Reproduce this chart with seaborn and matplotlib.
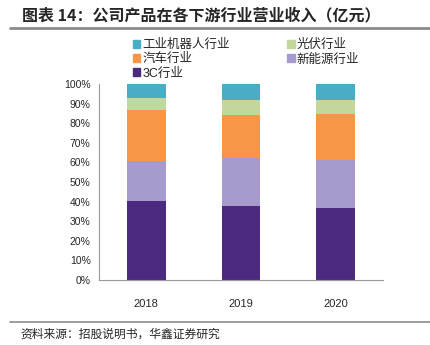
import matplotlib
matplotlib.use("Agg")
import matplotlib.pyplot as plt
from matplotlib.lines import Line2D
from matplotlib.patches import Patch
import seaborn as sns
import pandas as pd
import numpy as np

years = ["2018", "2019", "2020"]
series_names = ["3C行业", "新能源行业", "汽车行业", "光伏行业", "工业机器人行业"]
v_3c = [40.5, 37.6, 36.7]
v_ne = [20.2, 24.8, 24.7]
v_auto = [26.0, 21.8, 23.5]
v_pv = [6.2, 7.6, 6.8]
v_robot = [7.1, 8.2, 8.3]
colors = ["#4B2A80", "#A79ACD", "#F79646", "#C3D69B", "#4BACC6"]
yticks = [0, 10, 20, 30, 40, 50, 60, 70, 80, 90, 100]

sns.set_style("white")
plt.rcParams["font.family"] = ["Liberation Sans", "Noto Sans CJK SC", "DejaVu Sans"]

vals = np.array([v_3c, v_ne, v_auto, v_pv, v_robot])
cum = np.cumsum(vals, axis=0)
total = cum[-1]
cum_pct = cum / total * 100

fig = plt.figure(figsize=(4.31, 3.45), dpi=100)
ax = fig.add_axes([99/431, 1-280/345, 284/431, 196/345])

# draw cumulative bars from top down so each overlays
for i in range(len(series_names)-1, -1, -1):
    df = pd.DataFrame({"year": years, "v": cum_pct[i]})
    sns.barplot(data=df, x="year", y="v", color=colors[i], width=0.41,
                saturation=1, ax=ax, linewidth=0, zorder=2)

ax.set_xlim(-0.5, 2.5)
ax.set_ylim(0, 100)
ax.set_yticks(yticks)
ax.set_yticklabels([f"{t}%" for t in yticks], fontsize=7.5)
ax.set_xlabel("")
ax.set_ylabel("")
ax.tick_params(axis="x", which="major", length=0, pad=14, labelsize=8)
ax.set_xticks([0.5, 1.5, 2.5], minor=True)
ax.tick_params(axis="x", which="minor", length=3, color="#999999", direction="out")
ax.tick_params(axis="y", length=3, color="#999999", direction="out", pad=3)
for s in ["top", "right"]:
    ax.spines[s].set_visible(False)
for s in ["left", "bottom"]:
    ax.spines[s].set_color("#999999")
    ax.spines[s].set_linewidth(0.8)

# legend
handles = [Patch(color=c) for c in colors]
order = [4, 2, 0, 3, 1]
leg = fig.legend([handles[k] for k in order], [series_names[k] for k in order],
                 ncol=2, loc="upper left", bbox_to_anchor=(133/431, 1-39/345),
                 frameon=False, fontsize=9, handlelength=0.6, handleheight=0.6,
                 handletextpad=0.15, columnspacing=4.6, labelspacing=0.18,
                 borderpad=0, borderaxespad=0)

# title, lines, source
fig.text(22/431, 1-15/345, "图表 14：公司产品在各下游行业营业收入（亿元）",
         fontsize=11.5, fontweight="bold", va="center", ha="left",
         family=["Noto Sans CJK SC", "DejaVu Sans"])
fig.add_artist(Line2D([10/431, 1], [1-28/345, 1-28/345], color="#8C8C8C", lw=2))
fig.add_artist(Line2D([10/431, 1], [1-322/345, 1-322/345], color="#8C8C8C", lw=1.2))
fig.text(20/431, 1-334/345, "资料来源：招股说明书，华鑫证券研究",
         fontsize=8.5, va="center", ha="left",
         family=["Noto Sans CJK SC", "DejaVu Sans"])

fig.savefig("out.png", dpi=100)
